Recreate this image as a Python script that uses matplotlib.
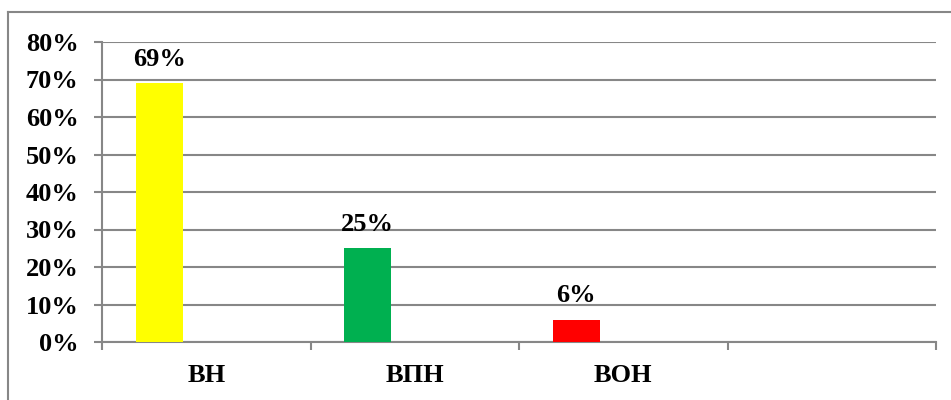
import matplotlib
matplotlib.use("Agg")
import matplotlib.pyplot as plt
from matplotlib.lines import Line2D

categories = ["ВН", "ВПН", "ВОН", ""]
values = [0.69, 0.25, 0.06]
bar_colors = ["#FFFF00", "#00B050", "#FF0000"]
value_labels = ["69%", "25%", "6%"]
yticks = [0, 0.1, 0.2, 0.3, 0.4, 0.5, 0.6, 0.7, 0.8]
ytick_labels = ["0%", "10%", "20%", "30%", "40%", "50%", "60%", "70%", "80%"]

W, H, DPI = 951, 400, 100
fig = plt.figure(figsize=(W / DPI, H / DPI), dpi=DPI)
fig.patch.set_facecolor("white")

left, right, top, bottom = 102, 936, 42, 342
ax = fig.add_axes([left / W, 1 - bottom / H, (right - left) / W, (bottom - top) / H])

grid_c = "#878787"
font = dict(family="Liberation Serif", weight="bold", size=19)

bw = 47 / 208
xs = [i - bw for i in range(len(values))]
ax.bar(xs, values, width=bw, color=bar_colors, zorder=3, linewidth=0)
for x, v, lab in zip(xs, values, value_labels):
    ax.annotate(lab, (x, v), xytext=(0, 12.5), textcoords="offset points",
                ha="center", va="baseline", **font)

ax.set_xlim(-0.5, len(categories) - 0.5)
ax.set_ylim(0, 0.8)
ax.set_yticks(yticks)
ax.set_yticklabels(ytick_labels, **font)
ax.set_xticks(range(len(categories)))
ax.set_xticklabels(categories, **font)
ax.set_xticks([i - 0.5 for i in range(len(categories) + 1)], minor=True)

ax.yaxis.grid(True, color=grid_c, linewidth=1.5, zorder=0)
ax.set_axisbelow(True)
for s in ["top", "right"]:
    ax.spines[s].set_visible(False)
for s in ["left", "bottom"]:
    ax.spines[s].set_color(grid_c)
    ax.spines[s].set_linewidth(1.5)
ax.tick_params(axis="y", length=6, width=1.5, color=grid_c, pad=11)
ax.tick_params(axis="x", which="major", length=0, pad=16)
ax.tick_params(axis="x", which="minor", length=6, width=1.5, color=grid_c)

# outer chart border
bx, by = 8 / W, 1 - 12 / H
fig.add_artist(Line2D([bx, 1.0], [by, by], transform=fig.transFigure, color=grid_c, linewidth=1.5))
fig.add_artist(Line2D([bx, bx], [0, by], transform=fig.transFigure, color=grid_c, linewidth=1.5))

fig.savefig("out.png", dpi=DPI)
